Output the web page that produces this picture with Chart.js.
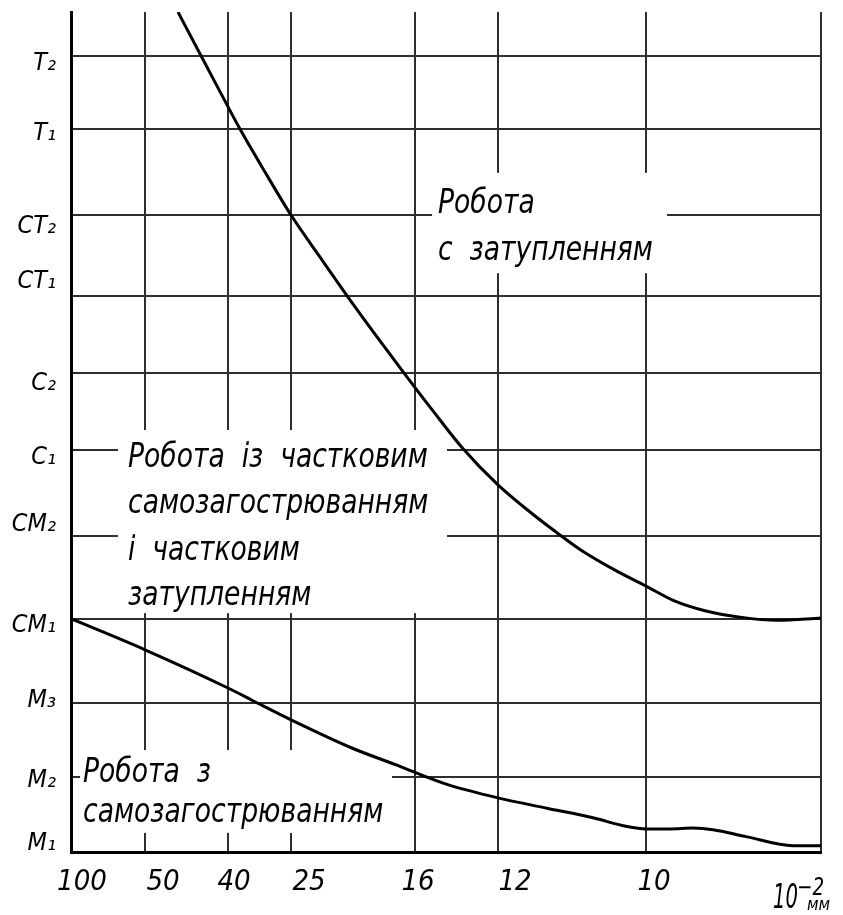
<!DOCTYPE html>
<html>
<head>
<meta charset="utf-8">
<script src="https://cdn.jsdelivr.net/npm/chart.js@4.4.1/dist/chart.umd.min.js"></script>
<style>
  html, body { margin: 0; padding: 0; background: #fff; }
  #wrap { width: 843px; height: 915px; }
</style>
</head>
<body>
<div id="wrap"><canvas id="c" width="843" height="915"></canvas></div>
<script>
// Grit numbers along the bottom axis (positions in drawing units, 0..750)
const gritLabels   = ['100', '50', '40', '25', '16', '12', '10', ''];
const gritGridPos  = [0, 74, 157, 220, 344, 427, 575, 750];
const gritLabelPos = [11, 92, 163, 238, 347, 444, 583, 750];

// Wheel hardness grades along the left axis (levels, 0..10.55)
const gradeLabels   = ['М₁', 'М₂', 'М₃', 'СМ₁', 'СМ₂', 'С₁', 'С₂', 'СТ₁', 'СТ₂', 'Т₁', 'Т₂'];
const gradeGridPos  = [0, 0.94, 1.87, 2.93, 3.97, 5.05, 6.01, 6.98, 8.00, 9.08, 10.0];
const gradeLabelPos = [0.11, 0.90, 1.90, 2.85, 4.11, 4.95, 5.88, 7.16, 7.85, 9.03, 9.90];

// Upper boundary: above it the wheel works with dulling
const upperX = [107, 130, 149, 169, 194, 220, 248, 277, 306, 334, 362, 391, 427, 459, 487, 509, 544, 575, 604, 634, 669, 706, 750];
const upperY = [10.55, 10.0, 9.55, 9.08, 8.54, 8.00, 7.49, 6.97, 6.47, 6.00, 5.54, 5.08, 4.61, 4.27, 4.00, 3.80, 3.54, 3.34, 3.15, 3.03, 2.95, 2.91, 2.94];

// Lower boundary: below it the wheel works with self-sharpening
const lowerX = [0, 74, 157, 182, 220, 282, 326, 344, 376, 427, 476, 522, 556, 575, 599, 622, 642, 676, 722, 750];
const lowerY = [2.93, 2.54, 2.06, 1.90, 1.66, 1.30, 1.09, 1.00, 0.85, 0.68, 0.55, 0.43, 0.32, 0.29, 0.29, 0.30, 0.28, 0.19, 0.08, 0.08];

const X_MAX = 750, Y_MAX = 10.55;
const FONT = "'Liberation Sans Narrow', 'DejaVu Sans Condensed', 'DejaVu Sans', sans-serif";

// Region captions: left x, baselines y (axis units)
const captions = [
  { x: 367, lines: [['Робота', 8.03], ['с  затупленням', 7.44]] },
  { x: 57,  lines: [['Робота  із  частковим', 4.84], ['самозагострюванням', 4.26], ['і  частковим', 3.67], ['затупленням', 3.10]] },
  { x: 12,  lines: [['Робота  з', 0.88], ['самозагострюванням', 0.38]] }
];
// White areas behind the captions where the grid is left out
const captionBoxes = [
  { x0: 361, x1: 596, y0: 7.27, y1: 8.53 },
  { x0: 47,  x1: 376, y0: 3.00, y1: 5.30 },
  { x0: 9,   x1: 321, y0: 0.24, y1: 1.28 }
];

const toPoints = (xs, ys) => xs.map((x, i) => ({ x: x, y: ys[i] }));

// narrow drafting-style lettering: draw text squeezed horizontally
function drawNarrow(ctx, txt, x, y, size, squeeze) {
  ctx.save();
  ctx.translate(x, y);
  ctx.scale(squeeze, 1);
  ctx.font = 'italic ' + size + 'px ' + FONT;
  ctx.fillText(txt, 0, 0);
  ctx.restore();
}

const gridGaps = {
  id: 'gridGaps',
  beforeDatasetsDraw(chart) {
    const { ctx, scales: { x, y } } = chart;
    ctx.save();
    ctx.fillStyle = '#fff';
    captionBoxes.forEach(b => {
      const l = x.getPixelForValue(b.x0), r = x.getPixelForValue(b.x1);
      const t = y.getPixelForValue(b.y1), bt = y.getPixelForValue(b.y0);
      ctx.fillRect(l, t, r - l, bt - t);
    });
    ctx.restore();
  }
};

const captionText = {
  id: 'captionText',
  afterDatasetsDraw(chart) {
    const { ctx, scales: { x, y }, chartArea } = chart;
    ctx.save();
    ctx.fillStyle = '#000';
    ctx.textAlign = 'left';
    ctx.textBaseline = 'alphabetic';
    captions.forEach(c => {
      const px = x.getPixelForValue(c.x);
      c.lines.forEach(([txt, yy]) => drawNarrow(ctx, txt, px, y.getPixelForValue(yy), 34, 0.87));
    });
    // unit of the grit axis: 10^-2 мм
    const r = chartArea.right, b = chartArea.bottom;
    drawNarrow(ctx, '10', r - 48, b + 56, 34, 0.64);
    drawNarrow(ctx, '−2', r - 24, b + 43, 24, 0.85);
    drawNarrow(ctx, 'мм', r - 14, b + 58, 17, 1.0);
    ctx.restore();
  }
};

new Chart(document.getElementById('c'), {
  type: 'line',
  data: {
    datasets: [
      { data: toPoints(upperX, upperY), borderColor: '#000', borderWidth: 3, pointRadius: 0, fill: false, cubicInterpolationMode: 'monotone' },
      { data: toPoints(lowerX, lowerY), borderColor: '#000', borderWidth: 3, pointRadius: 0, fill: false, cubicInterpolationMode: 'monotone' }
    ]
  },
  options: {
    responsive: false,
    animation: false,
    layout: { padding: { top: 12, right: 22, left: 0, bottom: 0 } },
    plugins: { legend: { display: false }, tooltip: { enabled: false } },
    scales: {
      x: {
        type: 'linear', min: 0, max: X_MAX, position: 'bottom', weight: 0,
        afterBuildTicks: s => { s.ticks = gritGridPos.map(v => ({ value: v })); },
        afterFit: s => { s.height = 0; s.paddingLeft = 0; s.paddingRight = 0; },
        ticks: { display: false },
        grid: { color: '#2e2e2e', lineWidth: 2, drawTicks: false },
        border: { display: true, color: '#000', width: 3 }
      },
      xLab: {
        type: 'linear', axis: 'x', min: 0, max: X_MAX, position: 'bottom', weight: 1,
        afterBuildTicks: s => { s.ticks = gritLabelPos.map(v => ({ value: v })); },
        afterFit: s => { s.height = 63; s.paddingLeft = 0; s.paddingRight = 0; },
        ticks: {
          callback: (v, i) => gritLabels[i], autoSkip: false, maxRotation: 0, minRotation: 0,
          font: { family: FONT, size: 29, style: 'italic' }, color: '#000', padding: 13
        },
        grid: { display: false, drawTicks: false },
        border: { display: false }
      },
      y: {
        type: 'linear', min: 0, max: Y_MAX, position: 'left', weight: 0,
        afterBuildTicks: s => { s.ticks = gradeGridPos.map(v => ({ value: v })); },
        afterFit: s => { s.width = 0; s.paddingTop = 0; s.paddingBottom = 0; },
        ticks: { display: false },
        grid: { color: '#2e2e2e', lineWidth: 2, drawTicks: false },
        border: { display: true, color: '#000', width: 3 }
      },
      yLab: {
        type: 'linear', axis: 'y', min: 0, max: Y_MAX, position: 'left', weight: 1,
        afterBuildTicks: s => { s.ticks = gradeLabelPos.map(v => ({ value: v })); },
        afterFit: s => { s.width = 71; s.paddingTop = 0; s.paddingBottom = 0; },
        ticks: {
          callback: (v, i) => gradeLabels[i], autoSkip: false,
          font: { family: FONT, size: 25, style: 'italic' }, color: '#000', padding: 15
        },
        grid: { display: false, drawTicks: false },
        border: { display: false }
      }
    }
  },
  plugins: [gridGaps, captionText]
});
</script>
</body>
</html>
